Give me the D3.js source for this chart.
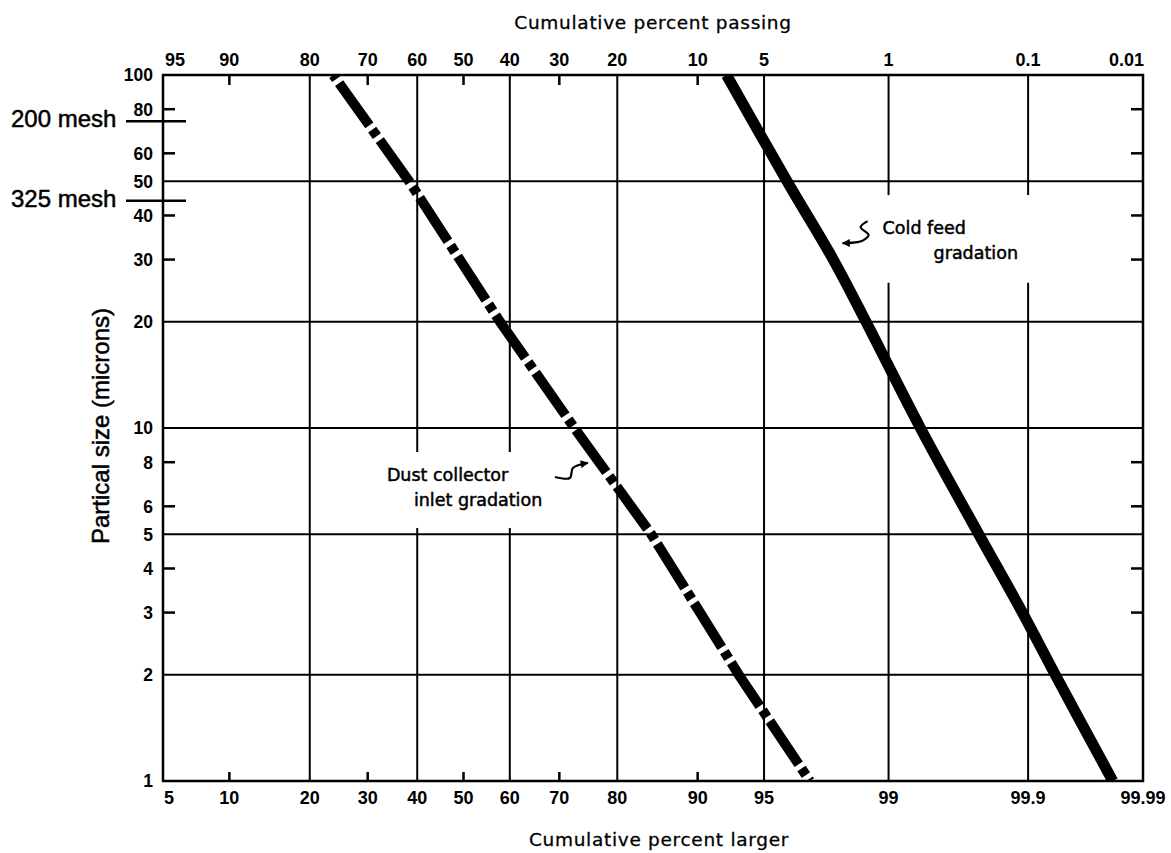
<!DOCTYPE html>
<html>
	<head>
		<title>particle size gradation</title>
		<script type="text/javascript" src="https://cdn.jsdelivr.net/npm/d3@7"></script>
		<style>
			body{margin:0;background:#fff;}
		</style>
	</head>
	<body>
		<script type="text/javascript">
			// axis values
			var sizeLabels=[100,80,60,50,40,30,20,10,8,6,5,4,3,2,1];
			var sizeGrid=[2,5,10,20,50];
			var sizeMinor=[80,60,40,30,8,6,4,3];
			var largerLabels=[5,10,20,30,40,50,60,70,80,90,95,99,99.9,99.99];
			var passingLabels=['95','90','80','70','60','50','40','30','20','10','5','1','0.1','0.01'];
			var largerGrid=[20,40,60,80,95,99,99.9];
			var largerMinor=[10,30,50,70,90];
			var meshSizes=[74,44];
			var meshNames=['200 mesh','325 mesh'];

			// curves: percent larger vs size in microns
			var dustLarger=[23.8,38.3,57.9,72.8,84.8,93.4,97.1];
			var dustSize=[100,50,20,10,5,2,1];
			var coldLarger=[92.5,96.17,97.85,98.62,99.38,99.76,99.889,99.94,99.981];
			var coldSize=[100,50,30,20,10,5,3,2,1];

			var w=1171;
			var h=853;

			// inverse normal cdf (Acklam)
			function probit(p){
				var a=[-3.969683028665376e+01,2.209460984245205e+02,-2.759285104469687e+02,1.383577518672690e+02,-3.066479806614716e+01,2.506628277459239e+00];
				var b=[-5.447609879822406e+01,1.615858368580409e+02,-1.556989798598866e+02,6.680131188771972e+01,-1.328068155288572e+01];
				var c=[-7.784894002430293e-03,-3.223964580411365e-01,-2.400758277161838e+00,-2.549732539343734e+00,4.374664141464968e+00,2.938163982698783e+00];
				var d=[7.784695709041462e-03,3.224671290700398e-01,2.445134137142996e+00,3.754408661907416e+00];
				var pl=0.02425,q,r;
				if(p<pl){
					q=Math.sqrt(-2*Math.log(p));
					return (((((c[0]*q+c[1])*q+c[2])*q+c[3])*q+c[4])*q+c[5])/((((d[0]*q+d[1])*q+d[2])*q+d[3])*q+1);
				}
				if(p>1-pl){
					q=Math.sqrt(-2*Math.log(1-p));
					return -(((((c[0]*q+c[1])*q+c[2])*q+c[3])*q+c[4])*q+c[5])/((((d[0]*q+d[1])*q+d[2])*q+d[3])*q+1);
				}
				q=p-0.5; r=q*q;
				return (((((a[0]*r+a[1])*r+a[2])*r+a[3])*r+a[4])*r+a[5])*q/(((((b[0]*r+b[1])*r+b[2])*r+b[3])*r+b[4])*r+1);
			}

			var zScale=d3.scaleLinear()
						 .domain([probit(0.05),probit(0.9999)])
						 .range([163,1143]);
			function xScale(p){ return zScale(probit(p/100)); }

			var yScale=d3.scaleLog()
						 .domain([1,100])
						 .range([781,75]);

			var x0=xScale(5), x1=xScale(99.99), y0=yScale(1), y1=yScale(100);

			var svg=d3.select('body').append('svg')
					  .attr('width',w)
					  .attr('height',h);

			svg.append('rect').attr('width',w).attr('height',h).attr('fill','#fff');

			svg.append('clipPath').attr('id','plotclip')
			   .append('rect')
			   .attr('x',x0).attr('y',y1)
			   .attr('width',x1-x0).attr('height',y0-y1);

			var grid=svg.append('g').attr('stroke','#000').attr('fill','none');

			// horizontal grid lines
			grid.selectAll('line.h')
				.data(sizeGrid)
				.enter()
				.append('line')
				.attr('x1',x0).attr('x2',x1)
				.attr('y1',function(d){return yScale(d);})
				.attr('y2',function(d){return yScale(d);})
				.attr('stroke-width',2);

			// vertical grid lines, some broken where labels sit
			var vGaps={40:[5.21,8.55],60:[5.21,8.55],99:[25.8,45.7],99.9:[25.8,45.7]};
			var vSegs=[];
			largerGrid.forEach(function(v){
				var g=vGaps[v];
				if(g){
					vSegs.push([v,1,g[0]]);
					vSegs.push([v,g[1],100]);
				}else{
					vSegs.push([v,1,100]);
				}
			});
			grid.selectAll('line.v')
				.data(vSegs)
				.enter()
				.append('line')
				.attr('x1',function(d){return xScale(d[0]);})
				.attr('x2',function(d){return xScale(d[0]);})
				.attr('y1',function(d){return yScale(d[1]);})
				.attr('y2',function(d){return yScale(d[2]);})
				.attr('stroke-width',2);

			// minor ticks left/right
			grid.selectAll('line.tl')
				.data(sizeMinor)
				.enter()
				.append('line')
				.attr('x1',x0).attr('x2',x0+12)
				.attr('y1',function(d){return yScale(d);})
				.attr('y2',function(d){return yScale(d);})
				.attr('stroke-width',2.5);
			grid.selectAll('line.tr')
				.data(sizeMinor)
				.enter()
				.append('line')
				.attr('x1',x1-12).attr('x2',x1)
				.attr('y1',function(d){return yScale(d);})
				.attr('y2',function(d){return yScale(d);})
				.attr('stroke-width',2.5);

			// minor ticks top/bottom
			grid.selectAll('line.tt')
				.data(largerMinor)
				.enter()
				.append('line')
				.attr('x1',function(d){return xScale(d);})
				.attr('x2',function(d){return xScale(d);})
				.attr('y1',y1).attr('y2',y1+10)
				.attr('stroke-width',2.5);
			grid.selectAll('line.tb')
				.data(largerMinor)
				.enter()
				.append('line')
				.attr('x1',function(d){return xScale(d);})
				.attr('x2',function(d){return xScale(d);})
				.attr('y1',y0-9).attr('y2',y0)
				.attr('stroke-width',2.5);

			// frame
			grid.append('rect')
				.attr('x',x0).attr('y',y1)
				.attr('width',x1-x0).attr('height',y0-y1)
				.attr('stroke-width',2.5);

			// mesh markers
			grid.selectAll('line.mesh')
				.data(meshSizes)
				.enter()
				.append('line')
				.attr('x1',x0-37).attr('x2',x0+23)
				.attr('y1',function(d){return yScale(d);})
				.attr('y2',function(d){return yScale(d);})
				.attr('stroke-width',2.5);
			svg.selectAll('text.mesh')
			   .data(meshSizes)
			   .enter()
			   .append('text')
			   .text(function(d,i){return meshNames[i];})
			   .attr('x',11)
			   .attr('y',function(d){return yScale(d)+6;})
			   .attr('font-family','Liberation Sans, Arial, sans-serif')
			   .attr('font-size','24px')
			   .attr('fill','#000')
			   .attr('stroke','#000')
			   .attr('stroke-width',0.5);

			// tick labels
			var tickFont='Liberation Sans, Arial, sans-serif';
			svg.selectAll('text.yl')
			   .data(sizeLabels)
			   .enter()
			   .append('text')
			   .text(function(d){return d;})
			   .attr('x',x0-10)
			   .attr('y',function(d){return yScale(d);})
			   .attr('dy','0.36em')
			   .attr('text-anchor','end')
			   .attr('font-family',tickFont)
			   .attr('font-weight','bold')
			   .attr('font-size','17.5px');

			svg.selectAll('text.xb')
			   .data(largerLabels)
			   .enter()
			   .append('text')
			   .text(function(d){return d;})
			   .attr('x',function(d,i){return i==0 ? x0+1 : xScale(d);})
			   .attr('y',y0+23)
			   .attr('text-anchor',function(d,i){return i==0 ? 'start' : 'middle';})
			   .attr('font-family',tickFont)
			   .attr('font-weight','bold')
			   .attr('font-size','18px');

			svg.selectAll('text.xt')
			   .data(largerLabels)
			   .enter()
			   .append('text')
			   .text(function(d,i){return passingLabels[i];})
			   .attr('x',function(d,i){
					if(i==0) return x0+2;
					if(i==largerLabels.length-1) return x1+1;
					return xScale(d);
			   })
			   .attr('y',y1-9)
			   .attr('text-anchor',function(d,i){
					if(i==0) return 'start';
					if(i==largerLabels.length-1) return 'end';
					return 'middle';
			   })
			   .attr('font-family',tickFont)
			   .attr('font-weight','bold')
			   .attr('font-size','18px');

			// axis titles
			var titleFont='DejaVu Sans, Verdana, sans-serif';
			svg.append('text')
			   .text('Cumulative percent passing')
			   .attr('x',(x0+x1)/2).attr('y',29)
			   .attr('text-anchor','middle')
			   .attr('font-family',titleFont)
			   .attr('font-size','18.5px')
			   .attr('letter-spacing','0.7px')
			   .attr('stroke','#000')
			   .attr('stroke-width',0.3);
			svg.append('text')
			   .text('Cumulative percent larger')
			   .attr('x',(x0+x1)/2+6).attr('y',846)
			   .attr('text-anchor','middle')
			   .attr('font-family',titleFont)
			   .attr('font-size','18.5px')
			   .attr('letter-spacing','0.7px')
			   .attr('stroke','#000')
			   .attr('stroke-width',0.3);
			svg.append('text')
			   .text('Partical size (microns)')
			   .attr('transform','translate(109,426) rotate(-90)')
			   .attr('text-anchor','middle')
			   .attr('font-family','Liberation Sans, Arial, sans-serif')
			   .attr('font-size','24px')
			   .attr('stroke','#000')
			   .attr('stroke-width',0.5);

			// curves
			var line=d3.line()
					   .x(function(d){return xScale(d[0]);})
					   .y(function(d){return yScale(d[1]);});

			var plot=svg.append('g').attr('clip-path','url(#plotclip)');

			plot.append('path')
				.datum(coldLarger.map(function(v,i){return [v,coldSize[i]];}))
				.attr('d',line.curve(d3.curveCatmullRom))
				.attr('fill','none')
				.attr('stroke','#000')
				.attr('stroke-width',11)
				.attr('stroke-linejoin','round');

			plot.append('path')
				.datum(dustLarger.map(function(v,i){return [v,dustSize[i]];}))
				.attr('d',line.curve(d3.curveLinear))
				.attr('fill','none')
				.attr('stroke','#000')
				.attr('stroke-width',10)
				.attr('stroke-dasharray','52,5,8,5')
				.attr('stroke-dashoffset',-10);

			// annotations
			svg.append('defs').append('marker')
			   .attr('id','arrow')
			   .attr('markerUnits','userSpaceOnUse')
			   .attr('viewBox','0 0 10 10')
			   .attr('refX',9).attr('refY',5)
			   .attr('markerWidth',10).attr('markerHeight',8)
			   .attr('orient','auto')
			   .append('path')
			   .attr('d','M0,0L10,5L0,10z')
			   .attr('fill','#000');

			var notes=[
				{tip:[75.2,7.96], pts:[[-33,14],[-18,15],[-15,5],[0,0]],
				 lines:['Dust collector','inlet gradation'], pos:[[-201,18],[-174,43]]},
				{tip:[98.1,33.4], pts:[[25,-22],[18,-16],[26,-8],[21,-3],[15,-1],[0,0]],
				 lines:['Cold feed','gradation'], pos:[[40,-9],[91,16]]}
			];
			var curl=d3.line().curve(d3.curveCatmullRom);
			notes.forEach(function(n){
				var tx=xScale(n.tip[0]), ty=yScale(n.tip[1]);
				svg.append('path')
				   .attr('d',curl(n.pts.map(function(p){return [tx+p[0],ty+p[1]];})))
				   .attr('fill','none')
				   .attr('stroke','#000')
				   .attr('stroke-width',2.2)
				   .attr('marker-end','url(#arrow)');
				svg.selectAll(null)
				   .data(n.lines)
				   .enter()
				   .append('text')
				   .text(function(d){return d;})
				   .attr('x',function(d,i){return tx+n.pos[i][0];})
				   .attr('y',function(d,i){return ty+n.pos[i][1];})
				   .attr('font-family',titleFont)
				   .attr('font-size','17.5px')
				   .attr('stroke','#000')
				   .attr('stroke-width',0.5);
			});
		</script>
	</body>
</html>
